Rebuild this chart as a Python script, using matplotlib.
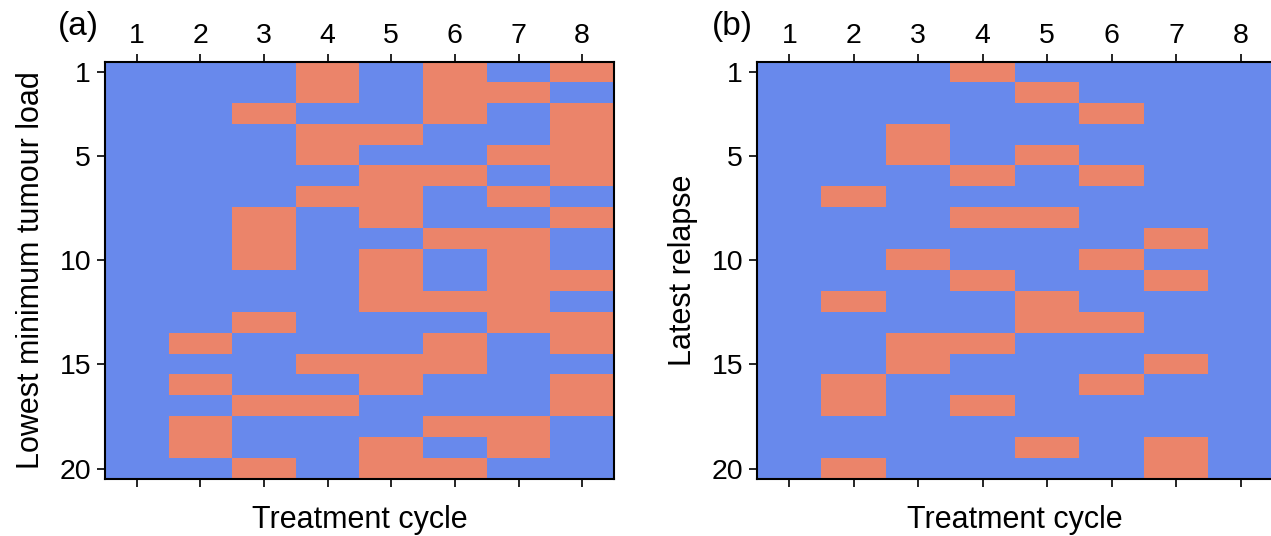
import numpy as np
import matplotlib
matplotlib.use("Agg")
import matplotlib.pyplot as plt
from matplotlib.colors import ListedColormap

plt.rcParams['font.family'] = ['Liberation Sans', 'DejaVu Sans']

cycles = [1, 2, 3, 4, 5, 6, 7, 8]
patients = list(range(1, 21))
ytick_vals = [1, 5, 10, 15, 20]

# Treatment cycles marked (salmon) for each patient row, panel (a)
rows_a = [
    [4, 6, 8], [4, 6, 7], [3, 6, 8], [4, 5, 8], [4, 7, 8],
    [5, 6, 8], [4, 5, 7], [3, 5, 8], [3, 6, 7], [3, 5, 7],
    [5, 7, 8], [5, 6, 7], [3, 7, 8], [2, 6, 8], [4, 5, 6],
    [2, 5, 8], [3, 4, 8], [2, 6, 7], [2, 5, 7], [3, 5, 6],
]
# panel (b)
rows_b = [
    [4], [5], [6], [3], [3, 5],
    [4, 6], [2], [4, 5], [7], [3, 6],
    [4, 7], [2, 5], [5, 6], [3, 4], [3, 7],
    [2, 6], [2, 4], [], [5, 7], [2, 7],
]

def to_matrix(rows):
    m = np.zeros((len(patients), len(cycles)))
    for i, r in enumerate(rows):
        for c in r:
            m[i, cycles.index(c)] = 1
    return m

cmap = ListedColormap(['#6889EC', '#EB846A'])

W, H = 1271, 536
fig = plt.figure(figsize=(W / 100, H / 100), dpi=100)

def add_panel(rect_px, mat, ylabel, tag, tag_x):
    l, r, t, b = rect_px
    ax = fig.add_axes([l / W, 1 - b / H, (r - l) / W, (b - t) / H])
    ax.imshow(mat, cmap=cmap, vmin=0, vmax=1, aspect='auto', interpolation='nearest',
              extent=[cycles[0] - 0.5, cycles[-1] + 0.5, patients[-1] + 0.5, patients[0] - 0.5])
    ax.set_xticks(cycles)
    ax.set_yticks(ytick_vals)
    ax.tick_params(axis='x', top=True, labeltop=True, bottom=True, labelbottom=False,
                   labelsize=20.5, length=6, width=1.2, direction='out', pad=3)
    ax.tick_params(axis='y', labelsize=20.5, length=6, width=1.2, direction='out', pad=4)
    for s in ax.spines.values():
        s.set_linewidth(1.5)
    ax.set_xlabel('Treatment cycle', fontsize=22, labelpad=13)
    ax.set_ylabel(ylabel, fontsize=22, labelpad=10)
    fig.text(tag_x / W, 1 - 27 / H, tag, fontsize=24, ha='center', va='center')
    return ax

add_panel((105, 614, 62, 479), to_matrix(rows_a), 'Lowest minimum tumour load', '(a)', 78)
add_panel((757, 1273, 62, 479), to_matrix(rows_b), 'Latest relapse', '(b)', 732)

fig.savefig('out.png', dpi=100)
